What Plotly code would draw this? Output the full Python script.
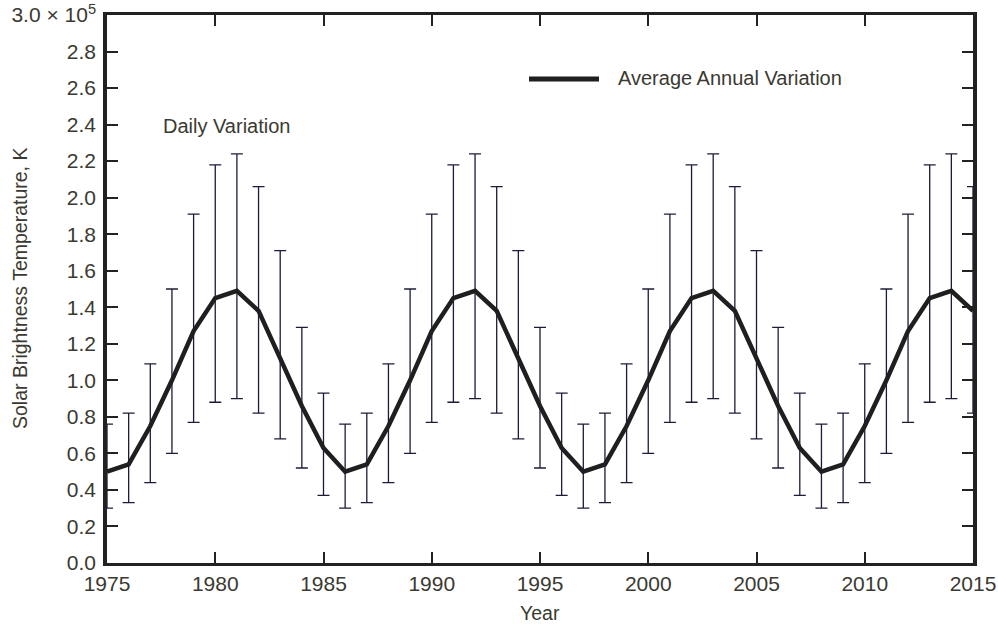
import plotly.graph_objects as go

years = list(range(1975, 2016))
mean_temp = [0.50, 0.54, 0.75, 1.00, 1.27, 1.45, 1.49, 1.38, 1.12, 0.86, 0.63,
             0.50, 0.54, 0.75, 1.00, 1.27, 1.45, 1.49, 1.38, 1.12, 0.86, 0.63,
             0.50, 0.54, 0.75, 1.00, 1.27, 1.45, 1.49, 1.38, 1.12, 0.86, 0.63,
             0.50, 0.54, 0.75, 1.00, 1.27, 1.45, 1.49, 1.38]
daily_low = [0.30, 0.33, 0.44, 0.60, 0.77, 0.88, 0.90, 0.82, 0.68, 0.52, 0.37,
             0.30, 0.33, 0.44, 0.60, 0.77, 0.88, 0.90, 0.82, 0.68, 0.52, 0.37,
             0.30, 0.33, 0.44, 0.60, 0.77, 0.88, 0.90, 0.82, 0.68, 0.52, 0.37,
             0.30, 0.33, 0.44, 0.60, 0.77, 0.88, 0.90, 0.82]
daily_high = [0.76, 0.82, 1.09, 1.50, 1.91, 2.18, 2.24, 2.06, 1.71, 1.29, 0.93,
              0.76, 0.82, 1.09, 1.50, 1.91, 2.18, 2.24, 2.06, 1.71, 1.29, 0.93,
              0.76, 0.82, 1.09, 1.50, 1.91, 2.18, 2.24, 2.06, 1.71, 1.29, 0.93,
              0.76, 0.82, 1.09, 1.50, 1.91, 2.18, 2.24, 2.06]

y_tickvals = [0.0, 0.2, 0.4, 0.6, 0.8, 1.0, 1.2, 1.4, 1.6, 1.8, 2.0, 2.2, 2.4, 2.6, 2.8, 3.0]
y_ticktext = ["0.0", "0.2", "0.4", "0.6", "0.8", "1.0", "1.2", "1.4", "1.6", "1.8",
              "2.0", "2.2", "2.4", "2.6", "2.8", "3.0 × 10<sup>5</sup>"]
x_tickvals = [1975, 1980, 1985, 1990, 1995, 2000, 2005, 2010, 2015]

err_plus = [h - m for h, m in zip(daily_high, mean_temp)]
err_minus = [m - l for m, l in zip(mean_temp, daily_low)]

text_color = "#3a3a30"
font_family = "Liberation Sans, Arial, sans-serif"
fs = 20
L, R, T, B = 107, 25, 15, 62
W, H = 998, 625
pw, ph = W - L - R, H - T - B

fig = go.Figure()
fig.add_trace(go.Scatter(
    x=years, y=mean_temp, mode="lines",
    line=dict(color="#1f1f1f", width=4.5),
    error_y=dict(type="data", symmetric=False, array=err_plus, arrayminus=err_minus,
                 color="#1c1c3a", thickness=1.3, width=6),
    cliponaxis=False, showlegend=False,
))

fig.update_layout(
    width=W, height=H,
    margin=dict(l=L, r=R, t=T, b=B),
    plot_bgcolor="white", paper_bgcolor="white",
    font=dict(family=font_family, size=fs, color=text_color),
    xaxis=dict(
        range=[1975, 2015], tickvals=x_tickvals, ticks="inside", ticklen=11,
        tickwidth=1.6, tickcolor="#222", showline=True, linecolor="#222",
        linewidth=3, mirror="allticks", showgrid=False, zeroline=False,
        automargin=False, ticklabelstandoff=0,
        tickfont=dict(size=21, color=text_color),
    ),
    yaxis=dict(
        range=[0, 3.0], tickvals=y_tickvals, ticktext=y_ticktext, ticks="inside",
        ticklen=11, tickwidth=1.6, tickcolor="#222", showline=True, linecolor="#222",
        linewidth=3.5, mirror="allticks", showgrid=False, zeroline=False,
        automargin=False, ticklabelstandoff=3,
        tickfont=dict(size=21, color=text_color),
    ),
    shapes=[dict(type="line", xref="paper", yref="paper",
                 x0=(529 - L) / pw, x1=(599 - L) / pw,
                 y0=(H - B - 79) / ph, y1=(H - B - 79) / ph,
                 line=dict(color="#1f1f1f", width=5))],
    annotations=[
        dict(text="Average Annual Variation", xref="paper", yref="paper",
             x=(616 - L) / pw, y=(H - B - 78) / ph, xanchor="left", yanchor="middle",
             showarrow=False, font=dict(size=fs, color=text_color)),
        dict(text="Daily Variation", xref="paper", yref="paper",
             x=(161 - L) / pw, y=(H - B - 126) / ph, xanchor="left", yanchor="middle",
             showarrow=False, font=dict(size=fs, color=text_color)),
        dict(text="Year", xref="paper", yref="paper",
             x=0.5, y=(H - B - 613) / ph, xanchor="center", yanchor="middle",
             showarrow=False, font=dict(size=19.5, color=text_color)),
        dict(text="Solar Brightness Temperature, K", xref="paper", yref="paper",
             x=(20 - L) / pw, y=0.5, xanchor="center", yanchor="middle", textangle=-90,
             showarrow=False, font=dict(size=19.5, color=text_color)),
    ],
)

fig.write_html("out.html")
